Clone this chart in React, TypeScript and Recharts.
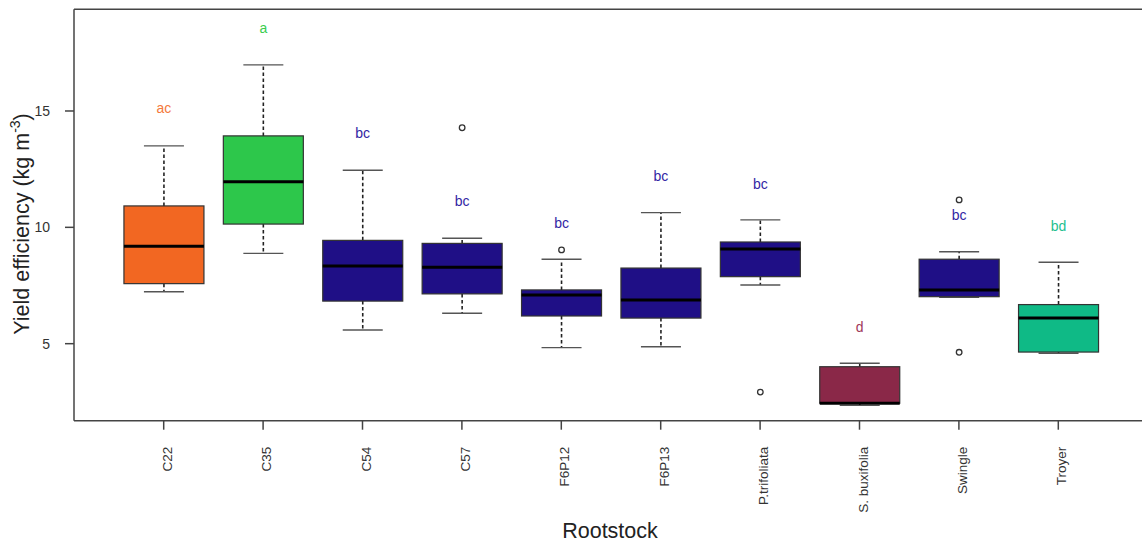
import React from 'react';
import { ComposedChart, Bar, XAxis, YAxis, ReferenceLine, Label } from 'recharts';

const rootstocks = ['C22', 'C35', 'C54', 'C57', 'F6P12', 'F6P13', 'P.trifoliata', 'S. buxifolia', 'Swingle', 'Troyer'];
const whiskerLow = [7.23, 8.88, 5.59, 6.31, 4.83, 4.87, 7.52, 2.35, 6.99, 4.59];
const q1 = [7.58, 10.14, 6.83, 7.14, 6.19, 6.1, 7.88, 2.44, 7.02, 4.64];
const median = [9.19, 11.96, 8.34, 8.28, 7.09, 6.88, 9.07, 2.44, 7.31, 6.1];
const q3 = [10.92, 13.93, 9.44, 9.31, 7.31, 8.25, 9.37, 4.01, 8.63, 6.68];
const whiskerHigh = [13.5, 16.98, 12.45, 9.53, 8.63, 10.63, 10.32, 4.16, 8.95, 8.5];
const outliers: number[][] = [[], [], [], [14.28], [9.03], [], [2.92], [], [11.18, 4.63], []];
const letters = ['ac', 'a', 'bc', 'bc', 'bc', 'bc', 'bc', 'd', 'bc', 'bd'];
const letterY = [15.12, 18.55, 14.04, 11.13, 10.2, 12.19, 11.86, 5.73, 10.53, 10.06];

const boxColors = ['#f26722', '#2dc74b', '#1f0f86', '#1f0f86', '#1f0f86', '#1f0f86', '#1f0f86', '#8a2848', '#1f0f86', '#0fba86'];
const letterColors = ['#f47a3c', '#3acd4f', '#3326a4', '#3326a4', '#3326a4', '#3326a4', '#3326a4', '#a0385c', '#3326a4', '#25c08f'];

const yMin = 1.69;
const yMax = 19.37;
const FONT = '"Liberation Sans", Arial, Helvetica, sans-serif';

const data = rootstocks.map((name, i) => ({
  name,
  range: [whiskerLow[i], whiskerHigh[i]],
  lo: whiskerLow[i],
  q1: q1[i],
  median: median[i],
  q3: q3[i],
  hi: whiskerHigh[i],
  outliers: outliers[i],
  letter: letters[i],
  letterY: letterY[i],
  fill: boxColors[i],
  letterFill: letterColors[i],
}));

function BoxShape(props: any) {
  const { x, y, width, height, payload } = props;
  const top = Math.min(y, y + height);
  const span = Math.abs(height);
  const { lo, hi } = payload;
  // linear y-scale: place every value relative to the whisker range the bar spans
  const py = (v: number) => top + ((hi - v) / (hi - lo)) * span;
  const cx = x + width / 2;
  const capHalf = width / 4;
  return (
    <g>
      <line x1={cx} x2={cx} y1={py(payload.q3)} y2={py(hi)} stroke="#222" strokeWidth={1.6} strokeDasharray="3.5 2.5" />
      <line x1={cx} x2={cx} y1={py(payload.q1)} y2={py(lo)} stroke="#222" strokeWidth={1.6} strokeDasharray="3.5 2.5" />
      <line x1={cx - capHalf} x2={cx + capHalf} y1={py(hi)} y2={py(hi)} stroke="#555" strokeWidth={1.4} />
      <line x1={cx - capHalf} x2={cx + capHalf} y1={py(lo)} y2={py(lo)} stroke="#555" strokeWidth={1.4} />
      <rect
        x={x}
        y={py(payload.q3)}
        width={width}
        height={py(payload.q1) - py(payload.q3)}
        fill={payload.fill}
        stroke="#333"
        strokeWidth={1.2}
      />
      <line x1={x} x2={x + width} y1={py(payload.median)} y2={py(payload.median)} stroke="#000" strokeWidth={3} />
      {payload.outliers.map((o: number, k: number) => (
        <circle key={k} cx={cx} cy={py(o)} r={2.8} fill="none" stroke="#333" strokeWidth={1.3} />
      ))}
      <text
        x={cx}
        y={py(payload.letterY)}
        dy="0.35em"
        textAnchor="middle"
        fontSize={14}
        fontFamily={FONT}
        fill={payload.letterFill}
      >
        {payload.letter}
      </text>
    </g>
  );
}

function RotatedTick(props: any) {
  const { x, y, payload } = props;
  return (
    <g transform={`translate(${x},${y})`}>
      <text transform="rotate(-90)" textAnchor="end" dy={8} fontSize={13.5} fontFamily={FONT} fill="#333">
        {payload.value}
      </text>
    </g>
  );
}

export default function App() {
  return (
    <div style={{ position: 'absolute', left: 0, top: 0, width: 1142, height: 545, overflow: 'hidden', background: '#fff' }}>
      <ComposedChart width={1148} height={545} data={data} margin={{ top: 9.3, right: 0, bottom: 0, left: 0 }}>
        <XAxis
          dataKey="name"
          interval={0}
          padding={{ left: 40, right: 40 }}
          height={124.3}
          tickSize={9}
          tickMargin={17}
          axisLine={{ stroke: '#444', strokeWidth: 1.5 }}
          tickLine={{ stroke: '#444', strokeWidth: 1.5 }}
          tick={<RotatedTick />}
        >
          <Label
            content={() => (
              <text x={610} y={538} textAnchor="middle" fontSize={21.5} fontFamily={FONT} fill="#222">
                Rootstock
              </text>
            )}
          />
        </XAxis>
        <YAxis
          type="number"
          domain={[yMin, yMax]}
          ticks={[5, 10, 15]}
          allowDataOverflow
          width={74}
          tickSize={9}
          tickMargin={15}
          axisLine={{ stroke: '#444', strokeWidth: 1.5 }}
          tickLine={{ stroke: '#444', strokeWidth: 1.5 }}
          tick={{ fill: '#333', fontSize: 14, fontFamily: FONT }}
        >
          <Label
            content={() => (
              <text
                x={29}
                y={224}
                transform="rotate(-90, 29, 224)"
                textAnchor="middle"
                fontSize={21.5}
                fontFamily={FONT}
                fill="#222"
              >
                Yield efficiency (kg m
                <tspan fontSize={14} dy={-9}>
                  -3
                </tspan>
                <tspan dy={9}>)</tspan>
              </text>
            )}
          />
        </YAxis>
        <ReferenceLine y={yMax} stroke="#444" strokeWidth={1.5} />
        <Bar dataKey="range" shape={<BoxShape />} isAnimationActive={false} />
      </ComposedChart>
    </div>
  );
}
